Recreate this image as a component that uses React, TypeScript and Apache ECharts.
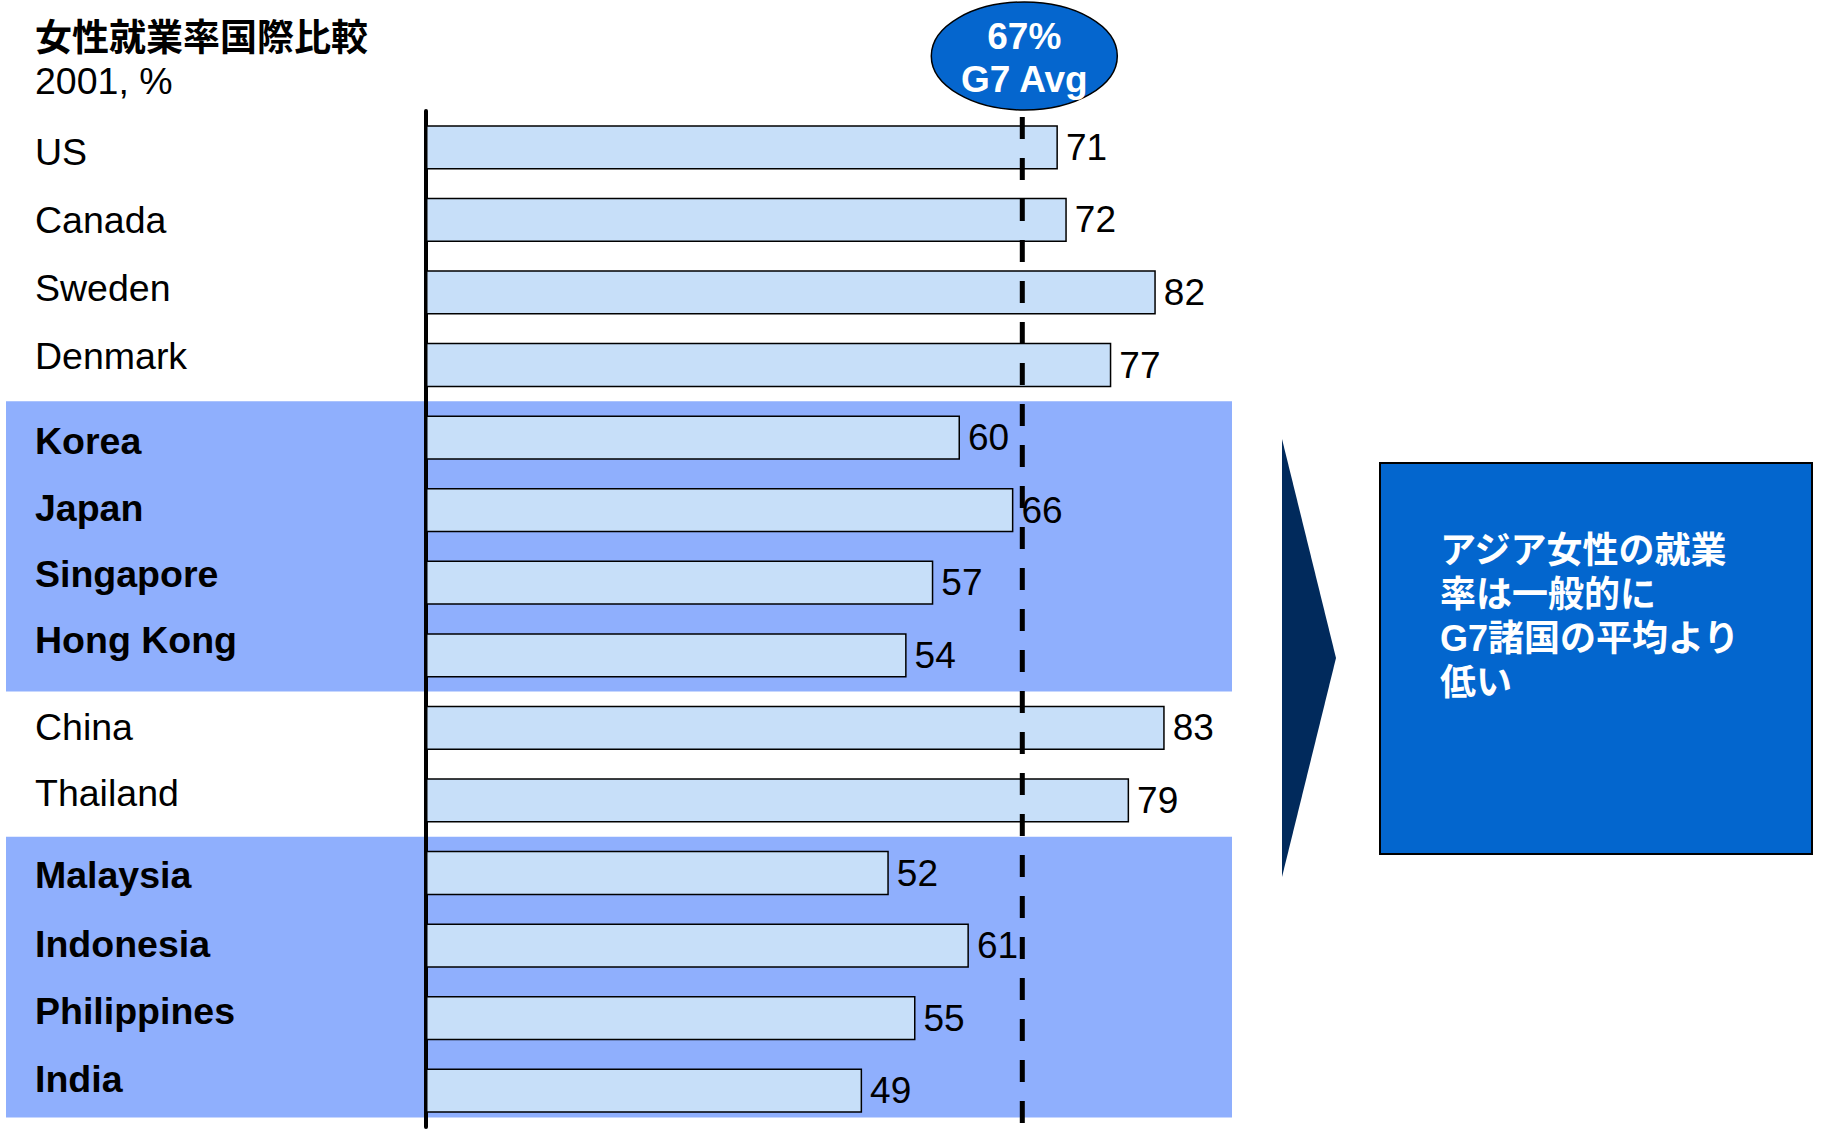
import React, { useEffect, useRef } from "react";
import * as echarts from "echarts";

const titleText = "女性就業率国際比較";
const subtitleText = "2001, %";
const categories = [
  "US", "Canada", "Sweden", "Denmark", "Korea", "Japan", "Singapore",
  "Hong Kong", "China", "Thailand", "Malaysia", "Indonesia", "Philippines", "India",
];
const values = [71, 72, 82, 77, 60, 66, 57, 54, 83, 79, 52, 61, 55, 49];
const highlightGroups = [
  ["Korea", "Japan", "Singapore", "Hong Kong"],
  ["Malaysia", "Indonesia", "Philippines", "India"],
];
const g7Avg = 67;
const avgLabel = ["67%", "G7 Avg"];
const calloutLines = ["アジア女性の就業", "率は一般的に", "G7諸国の平均より", "低い"];

// layout only: vertical nudge (px, + = down) of each category label vs its bar
const labelNudge = [5, 0, -4, -9, 3, -2, -9, -15, -1, -7, 2, -2, -7, -12];

const FONT = "'Liberation Sans', Arial, 'Noto Sans CJK JP', sans-serif";

export default function App() {
  const ref = useRef<HTMLDivElement>(null);
  useEffect(() => {
    if (!ref.current) return;
    const chart = echarts.init(ref.current, null, { renderer: "svg" });
    const boldSet = new Set(highlightGroups.flat());
    const rich: Record<string, any> = {};
    categories.forEach((c, i) => {
      const d = labelNudge[i];
      rich["s" + i] = {
        fontFamily: FONT,
        fontSize: 37.5,
        fontWeight: boldSet.has(c) ? "bold" : "normal",
        color: "#000",
        padding: d >= 0 ? [2 * d, 0, 0, 0] : [0, 0, -2 * d, 0],
      };
    });
    chart.setOption({
      animation: false,
      backgroundColor: "#ffffff",
      grid: { left: 426, top: 111, height: 1016, right: 505, containLabel: false },
      xAxis: { type: "value", min: 0, max: 100, show: false, splitLine: { show: false } },
      yAxis: {
        type: "category",
        data: categories,
        inverse: true,
        axisTick: { show: false },
        axisLine: { show: true, lineStyle: { color: "#000", width: 4 } },
        axisLabel: {
          align: "left",
          margin: 391,
          fontFamily: FONT,
          fontSize: 37.5,
          color: "#000",
          formatter: (v: string, idx: number) => `{s${idx}|${v}}`,
          rich,
        },
      },
      series: [
        {
          type: "bar",
          data: values,
          barCategoryGap: "39%",
          itemStyle: { color: "#C7DFF9", borderColor: "#000", borderWidth: 1.5 },
          label: {
            show: true,
            position: "right",
            distance: 8,
            fontFamily: FONT,
            fontSize: 37,
            color: "#000",
          },
          z: 3,
        },
      ],
    });

    const px = (v: number, c: string) =>
      chart.convertToPixel({ gridIndex: 0 }, [v, c]) as number[];
    const y0 = px(0, categories[0])[1];
    const step = px(0, categories[1])[1] - y0;
    const bandBottomFrac = [0.5, 0.37];
    const bands = highlightGroups.map((g, i) => {
      const top = px(0, g[0])[1] - step / 2;
      const bottom = px(0, g[g.length - 1])[1] + step * bandBottomFrac[i];
      return {
        type: "rect",
        z: -10,
        shape: { x: 6, y: top, width: 1226, height: bottom - top },
        style: { fill: "#8FAFFD" },
      };
    });
    const avgX = px(g7Avg, categories[0])[0];

    const txt = (text: string, x: number, y: number, font: string, fill: string, align = "left") => ({
      type: "text",
      z: 61,
      style: {
        text, x, y, fill, font,
        align, verticalAlign: "middle",
        textAlign: align, textVerticalAlign: "middle",
      },
    });

    chart.setOption({
      graphic: [
        ...bands,
        {
          type: "line",
          z: 50,
          shape: { x1: avgX, y1: 117, x2: avgX, y2: 1133 },
          style: { stroke: "#000", lineWidth: 5, lineDash: [22, 19] },
        },
        {
          type: "ellipse",
          z: 60,
          shape: { cx: avgX + 2, cy: 56, rx: 93, ry: 54 },
          style: { fill: "#0566CE", stroke: "#000", lineWidth: 1.5 },
        },
        ...avgLabel.map((t, i) => txt(t, avgX + 2, 36 + i * 43, `bold 37px ${FONT}`, "#fff", "center")),
        txt(titleText, 35, 38, `bold 37px ${FONT}`, "#000"),
        txt(subtitleText, 35, 81, `37.5px ${FONT}`, "#000"),
        {
          type: "polygon",
          z: 10,
          shape: { points: [[1282, 439], [1336, 658], [1282, 877]] },
          style: { fill: "#012A5C" },
        },
        {
          type: "rect",
          z: 10,
          shape: { x: 1380, y: 463, width: 432, height: 391 },
          style: { fill: "#0366CE", stroke: "#000", lineWidth: 2 },
        },
        ...calloutLines.map((t, i) => txt(t, 1440, 550 + i * 44, `bold 36px ${FONT}`, "#fff")),
      ],
    });
    return () => chart.dispose();
  }, []);
  return (
    <div
      ref={ref}
      style={{ position: "fixed", left: 0, top: 0, width: 1821, height: 1133 }}
    />
  );
}
